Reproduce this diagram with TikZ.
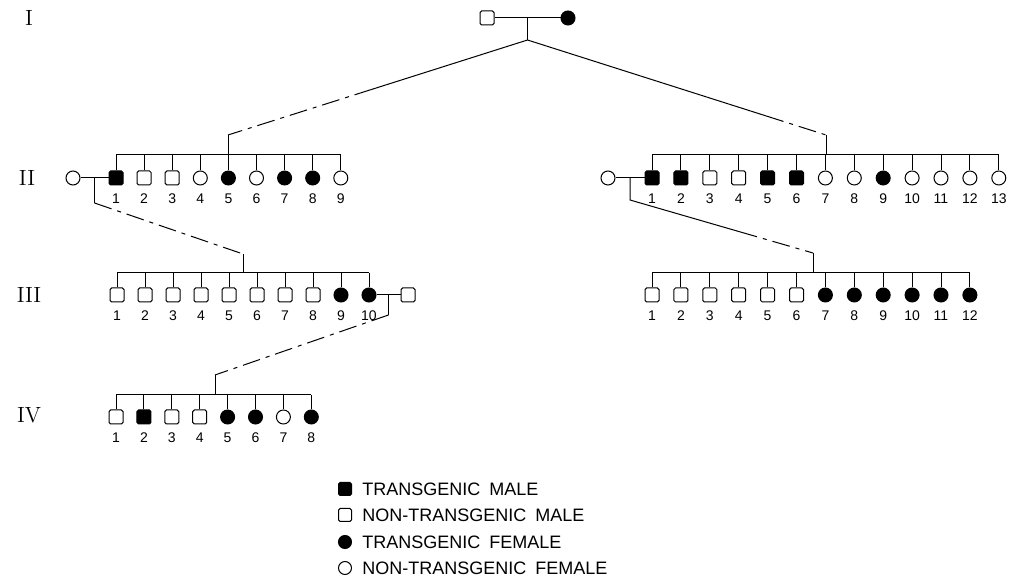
\documentclass[tikz,border=0pt]{standalone}
\usepackage{fontspec}
\setsansfont{Liberation Sans}
\usetikzlibrary{calc,positioning}
\def\sym{7pt}
\def\gap{3.5pt}
\tikzset{
  person/.style={draw, line width=0.5pt, minimum size=\sym, inner sep=0pt},
  tmale/.style={person, rectangle, rounded corners=0.8pt, fill=black},
  nmale/.style={person, rectangle, rounded corners=0.8pt},
  tfemale/.style={person, circle, fill=black},
  nfemale/.style={person, circle},
  num/.style={font=\sffamily\fontsize{7}{7}\selectfont, inner sep=0.5pt},
  gen/.style={font=\fontsize{11}{11}\selectfont, inner sep=0pt},
  key/.style={font=\sffamily\fontsize{9}{9}\selectfont, anchor=west, inner sep=0pt},
  line/.style={line width=0.5pt},
  broken/.style={line width=0.5pt, dash pattern=on 9pt off 3pt on 2pt off 3pt},
}

\begin{document}
\begin{tikzpicture}[x=0.5pt, y=-0.5pt]
\useasboundingbox (0,0) rectangle (1009,582);

% generation labels
\node[gen] (gI) at (29,18) {I};
\node[gen] (gII) at (27,178) {II};
\node[gen] (gIII) at (29,295) {III};
\node[gen] (gIV) at (29,415) {IV};

% founders
\node[nmale] (f1) at (487,18) {};
\node[tfemale] (f2) at (568,18) {};
\draw[line] (f1) -- (f2);
\coordinate (jI) at ($(f1)!0.5!(f2)$);
\coordinate (apex) at ($(jI)+(0,22)$);
\draw[line] (jI) -- (apex);
\coordinate (sibA) at (228,155);
\coordinate (sibB) at (826,155);
\coordinate (topA) at (228,135);
\coordinate (topB) at (826,135);
\draw[line] (apex) -- ($(apex)!0.52!(topA)$);
\draw[broken] ($(apex)!0.52!(topA)$) -- (topA);
\draw[line] (topA) -- (sibA);
\draw[line] (apex) -- ($(apex)!0.8!(topB)$);
\draw[broken] ($(apex)!0.8!(topB)$) -- (topB);
\draw[line] (topB) -- (sibB);

% generation II, left
\foreach \s [count=\k] in {tmale,nmale,nmale,nfemale,tfemale,nfemale,tfemale,tfemale,nfemale}{
  \node[\s] (a\k) at ({116+(\k-1)*28.1},178) {};
  \node[num, below=\gap of a\k] (an\k) {\k};
  \draw[line] (a\k.north) -- (a\k.north |- sibA);
}
\draw[line] (a1.north |- sibA) -- (a9.north |- sibA);
\node[nfemale] (sa) at (73,178) {};
\draw[line] (sa) -- (a1);
\coordinate (ja) at ($(sa)!0.5!(a1)$);

% generation II, right
\foreach \s [count=\k] in {tmale,tmale,nmale,nmale,tmale,tmale,nfemale,nfemale,tfemale,nfemale,nfemale,nfemale,nfemale}{
  \node[\s] (b\k) at ({652+(\k-1)*28.9},178) {};
  \node[num, below=\gap of b\k] (bn\k) {\k};
  \draw[line] (b\k.north) -- (b\k.north |- sibB);
}
\draw[line] (b1.north |- sibB) -- (b13.north |- sibB);
\node[nfemale] (sb) at (608,178) {};
\draw[line] (sb) -- (b1);
\coordinate (jb) at ($(sb)!0.5!(b1)$);

% generation III, left
\coordinate (sibC) at (243,273);
\coordinate (topC) at (243,254);
\draw[line] (ja) -- ($(ja)+(0,25)$);
\draw[broken] ($(ja)+(0,25)$) -- (topC);
\draw[line] (topC) -- (sibC);
\foreach \s [count=\k] in {nmale,nmale,nmale,nmale,nmale,nmale,nmale,nmale,tfemale,tfemale}{
  \node[\s] (c\k) at ({117+(\k-1)*28},295) {};
  \node[num, below=\gap of c\k] (cn\k) {\k};
  \draw[line] (c\k.north) -- (c\k.north |- sibC);
}
\draw[line] (c1.north |- sibC) -- (c10.north |- sibC);
\node[nmale] (sc) at (408,295) {};
\draw[line] (c10) -- (sc);
\coordinate (jc) at ($(c10)!0.5!(sc)$);

% generation III, right
\coordinate (sibD) at (813,273);
\coordinate (topD) at (813,253);
\draw[line] (jb) -- ($(jb)+(0,22)$) -- ($($(jb)+(0,22)$)!0.6!(topD)$);
\draw[broken] ($($(jb)+(0,22)$)!0.6!(topD)$) -- (topD);
\draw[line] (topD) -- (sibD);
\foreach \s [count=\k] in {nmale,nmale,nmale,nmale,nmale,nmale,tfemale,tfemale,tfemale,tfemale,tfemale,tfemale}{
  \node[\s] (d\k) at ({652+(\k-1)*28.9},295) {};
  \node[num, below=\gap of d\k] (dn\k) {\k};
  \draw[line] (d\k.north) -- (d\k.north |- sibD);
}
\draw[line] (d1.north |- sibD) -- (d12.north |- sibD);

% generation IV
\coordinate (sibE) at (215,395);
\coordinate (topE) at (215,375);
\draw[line] (jc) -- ($(jc)+(0,20)$);
\draw[broken] ($(jc)+(0,20)$) -- (topE);
\draw[line] (topE) -- (sibE);
\foreach \s [count=\k] in {nmale,tmale,nmale,nmale,tfemale,tfemale,nfemale,tfemale}{
  \node[\s] (e\k) at ({116+(\k-1)*27.9},417) {};
  \node[num, below=\gap of e\k] (en\k) {\k};
  \draw[line] (e\k.north) -- (e\k.north |- sibE);
}
\draw[line] (e1.north |- sibE) -- (e8.north |- sibE);

% key
\node[tmale, minimum size=6.5pt] (k1) at (345,489) {};
\node[nmale, minimum size=6.5pt] (k2) at (345,515) {};
\node[tfemale, minimum size=6.5pt] (k3) at (345,542) {};
\node[nfemale, minimum size=6.5pt] (k4) at (345,568) {};
\node[key] (t1) at (362,489) {TRANSGENIC\hspace{0.5em}MALE};
\node[key] (t2) at (362,515) {NON-TRANSGENIC\hspace{0.5em}MALE};
\node[key] (t3) at (362,542) {TRANSGENIC\hspace{0.5em}FEMALE};
\node[key] (t4) at (362,568) {NON-TRANSGENIC\hspace{0.5em}FEMALE};

\end{tikzpicture}
\end{document}
